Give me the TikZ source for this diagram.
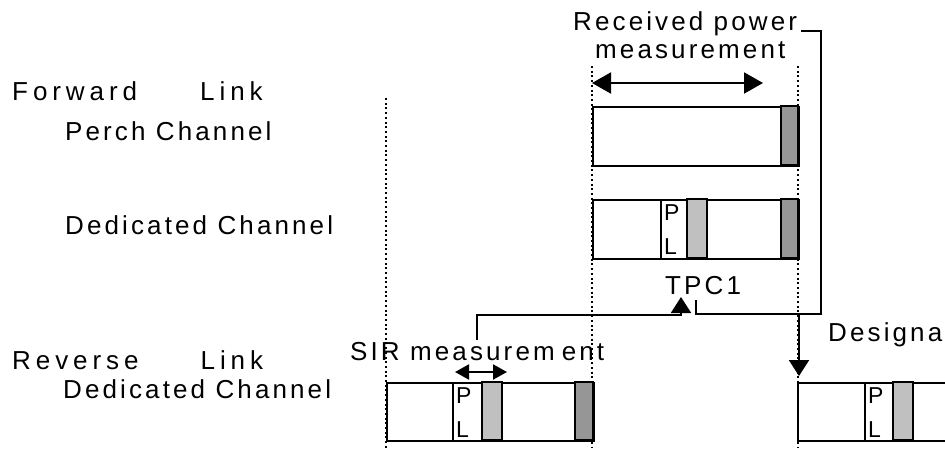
\documentclass[tikz,border=0pt]{standalone}
\usepackage{fontspec}
\setmainfont{Liberation Sans}
\newfontfamily\lsA[LetterSpace=12]{Liberation Sans}
\newfontfamily\lsB[LetterSpace=19]{Liberation Sans}
\usetikzlibrary{arrows.meta}
\definecolor{lgrey}{HTML}{C0C0C0}
\definecolor{dgrey}{HTML}{969696}
\begin{document}
\begin{tikzpicture}[x=1pt,y=-1pt,
  lbl/.style={inner sep=0pt,anchor=base west,font=\lsA\fontsize{26}{30}\selectfont},
  big/.style={inner sep=0pt,anchor=base west,font=\lsB\fontsize{26}{30}\selectfont},
  pl/.style={inner sep=0pt,anchor=base west,font=\fontsize{23}{26}\selectfont},
  chbox/.style={draw,line width=2pt,fill=white,anchor=north west,inner sep=0pt,minimum height=59pt},
  seg/.style={line width=2pt},
  dotline/.style={line width=2pt,dash pattern=on 2pt off 2.7pt},
  conn/.style={line width=2pt},
  bigarr/.style={line width=2pt,{Triangle[length=19pt,width=21pt]}-{Triangle[length=19pt,width=21pt]}},
  smallarr/.style={line width=2pt,{Triangle[length=14pt,width=15pt]}-{Triangle[length=14pt,width=15pt]}},
  uparr/.style={line width=2pt,-{Triangle[length=16pt,width=20pt]}}
]
\clip (0,0) rectangle (945,448);
\fill[white] (0,0) rectangle (945,448);

% dotted reference lines
\draw[dotline] (386,98) -- (386,448);
\draw[dotline] (592,66) -- (592,448);
\draw[dotline] (798,66) -- (798,448);

% labels on the left
\node[big] (fwd) at (12,100) {Forward\hspace{63pt}Link};
\node[lbl] (perchlbl) at (65,140) {Perch Channel};
\node[lbl] (dedflbl) at (65,234) {Dedicated Channel};
\node[big] (rev) at (12,369) {Reverse\hspace{62pt}Link};
\node[lbl] (dedrlbl) at (63,398) {Dedicated Channel};

% perch channel box
\node[chbox,minimum width=206pt] (perch) at (592,106) {};
\filldraw[seg,fill=dgrey] (781,106) rectangle (798,165);

% forward dedicated channel box
\node[chbox,minimum width=206pt] (dedf) at (592,199) {};
\draw[seg] (661,199) -- (661,258);
\filldraw[seg,fill=lgrey] (687,199) rectangle (707,258);
\filldraw[seg,fill=dgrey] (781,199) rectangle (798,258);
\node[pl] (pf) at (664,220) {P};
\node[pl] (lf) at (664,254) {L};

% reverse dedicated channel box (left)
\node[chbox,minimum width=207pt,minimum height=58pt] (dedr) at (386,382) {};
\draw[seg] (453,382) -- (453,440);
\filldraw[seg,fill=lgrey] (482,382) rectangle (502,440);
\filldraw[seg,fill=dgrey] (575,382) rectangle (593,440);
\node[pl] (pr) at (456,403) {P};
\node[pl] (lr) at (456,437) {L};

% reverse dedicated channel box (right, cut by the page edge)
\node[chbox,minimum width=200pt,minimum height=58pt] (dedr2) at (797,382) {};
\draw[seg] (865,382) -- (865,440);
\filldraw[seg,fill=lgrey] (893,382) rectangle (913,440);
\node[pl] (pr2) at (868,403) {P};
\node[pl] (lr2) at (868,437) {L};

% texts
\node[lbl] (recv1) at (573,30) {Received power};
\node[lbl] (recv2) at (595,58) {measurement};
\node[lbl] (tpc) at (665,294) {TPC1};
\node[lbl] (sir) at (350,360) {SIR measurem\hspace{7pt}ent};
\node[lbl] (des) at (828,341) {Designa};

% measurement arrows
\coordinate (rpL) at (592,83);
\coordinate (rpR) at (763,83);
\draw[bigarr] (rpL) -- (rpR);
\coordinate (sirL) at (455,372);
\coordinate (sirR) at (507,372);
\draw[smallarr] (sirL) -- (sirR);

% connectors
\coordinate (j) at (799,314);
\coordinate (rpturn) at (821,31);
\draw[conn] (801,31) -- (rpturn) |- (j);
\coordinate (tpcstart) at (696,300);
\draw[conn] (tpcstart) |- (j);
\coordinate (dtip) at (799,376);
\draw[uparr] (j) -- (dtip);
\coordinate (sirstart) at (477,340);
\coordinate (uptip) at (681,297);
\draw[uparr] (sirstart) |- (681,315) -- (uptip);
\end{tikzpicture}
\end{document}
